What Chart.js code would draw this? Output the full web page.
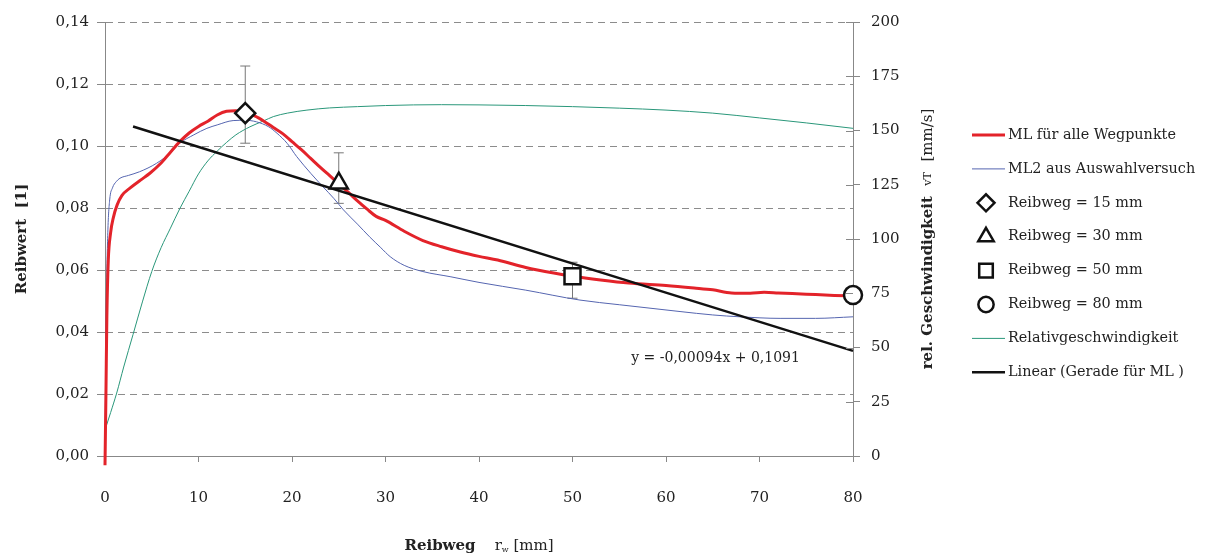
<!DOCTYPE html>
<html>
<head>
<meta charset="utf-8">
<script src="https://cdn.jsdelivr.net/npm/chart.js@4.4.1/dist/chart.umd.min.js"></script>
<style>
  html, body { margin: 0; padding: 0; background: #fff; }
</style>
</head>
<body>
<canvas id="reibwert" width="1205" height="554"></canvas>
<script>
// ML für alle Wegpunkte (Reibwert, linke Achse)
const mlX = [0, 0.1, 0.2, 0.35, 0.6, 0.9, 1.3, 1.8, 2.7, 3.8, 4.8, 6, 7, 8, 9, 10, 11, 12, 13, 14, 15, 16, 17, 18, 19, 20,
  21, 22, 23, 24, 25, 26, 27, 28, 29, 30, 32, 34, 36, 38, 40, 42, 45, 48, 50, 53, 56, 60, 63, 65, 67, 69, 70.5, 72, 75, 78, 80];
const mlY = [-0.003, 0.02, 0.045, 0.063, 0.072, 0.077, 0.081, 0.084, 0.0865, 0.089, 0.0912, 0.0945, 0.098, 0.1014, 0.1042,
  0.1063, 0.108, 0.11, 0.1112, 0.1114, 0.1108, 0.1097, 0.108, 0.106, 0.104, 0.1014, 0.0988, 0.096, 0.0932, 0.0905, 0.0878,
  0.0851, 0.0823, 0.0797, 0.0773, 0.076, 0.0725, 0.0695, 0.0675, 0.0658, 0.0644, 0.0632, 0.0608, 0.059, 0.058, 0.0568,
  0.0558, 0.055, 0.0542, 0.0536, 0.0526, 0.0525, 0.0528, 0.0526, 0.0522, 0.0518, 0.0516];

// ML2 aus Auswahlversuch
const ml2X = [0, 0.15, 0.3, 0.5, 0.8, 1.2, 1.6, 2.5, 3.7, 5.5, 7, 8, 9.5, 10.9, 12, 13.7, 15, 16.2, 17.5, 18.4, 19.5, 20.5,
  22, 23.3, 24.5, 25.5, 27, 28.3, 29.5, 30.5, 32, 34, 37, 40, 45, 50.8, 55, 61.5, 65, 67.9, 72.2, 76, 80];
const ml2Y = [0.004, 0.05, 0.072, 0.0826, 0.0865, 0.0885, 0.0896, 0.0905, 0.0917, 0.0944, 0.0978, 0.1009, 0.1036, 0.1057,
  0.1068, 0.1082, 0.1083, 0.1078, 0.1062, 0.1041, 0.1008, 0.0966, 0.0912, 0.0869, 0.083, 0.0794, 0.0748, 0.0707, 0.0672,
  0.0643, 0.0615, 0.0595, 0.0578, 0.056, 0.0535, 0.0503, 0.0488, 0.0466, 0.0455, 0.0449, 0.0444, 0.0444, 0.0449];

// Relativgeschwindigkeit vT [mm/s] (rechte Achse)
const vX = [0, 0.6, 1.25, 2, 3, 4, 5, 6, 7, 8, 9, 10, 11, 12, 13, 14, 15.5, 17, 18, 19.5, 21.6, 24, 27, 30, 33, 36, 40,
  45, 50, 55, 60, 65, 70, 75, 80];
const vY = [12, 20, 29, 41, 56, 71, 85, 96, 105, 114, 122, 130, 136, 140.5, 144.5, 148, 151.7, 154.5, 156.4, 158, 159.4,
  160.4, 161, 161.5, 161.8, 161.9, 161.8, 161.5, 161, 160.3, 159.4, 158, 155.8, 153.5, 151];

// Linear (Gerade für ML)
const fitX = [3, 80];
const fitY = [0.1063, 0.0339];
const fitText = 'y = -0,00094x + 0,1091';
const fitLabelAt = [65.3, 0.0316];

// Einzelpunkte mit Streuung
const pointLabels = ['Reibweg = 15 mm', 'Reibweg = 30 mm', 'Reibweg = 50 mm', 'Reibweg = 80 mm'];
const pointStyles = ['rectRot', 'triangle', 'rect', 'circle'];
const pointX = [15, 25, 50, 80];
const pointY = [0.1106, 0.088, 0.058, 0.0519];
const errLow = [0.1009, 0.0815, 0.0509, null];
const errHigh = [0.1258, 0.0978, 0.0625, null];

const FONT = '"DejaVu Serif", "Liberation Serif", serif';
const toPoints = (xs, ys) => xs.map((x, i) => ({x: x, y: ys[i]}));

function drawShape(ctx, style, x, y, r) {
    ctx.beginPath();
    if (style === 'rectRot') {
        ctx.moveTo(x - r, y); ctx.lineTo(x, y - r); ctx.lineTo(x + r, y); ctx.lineTo(x, y + r);
        ctx.closePath();
    } else if (style === 'triangle') {
        ctx.moveTo(x, y - r); ctx.lineTo(x + 0.866 * r, y + 0.5 * r); ctx.lineTo(x - 0.866 * r, y + 0.5 * r);
        ctx.closePath();
    } else if (style === 'rect') {
        const s = r * Math.SQRT1_2;
        ctx.rect(x - s, y - s, 2 * s, 2 * s);
    } else {
        ctx.arc(x, y, r, 0, Math.PI * 2);
    }
    ctx.fill();
    ctx.stroke();
}

const errorBars = {
    id: 'errorBars',
    beforeDatasetsDraw(chart) {
        const {ctx, scales: {x, y}} = chart;
        ctx.save();
        ctx.strokeStyle = '#777';
        ctx.lineWidth = 1;
        pointX.forEach((px, i) => {
            if (errLow[i] == null) return;
            const cx = x.getPixelForValue(px);
            const y1 = y.getPixelForValue(errLow[i]);
            const y2 = y.getPixelForValue(errHigh[i]);
            ctx.beginPath();
            ctx.moveTo(cx, y1); ctx.lineTo(cx, y2);
            ctx.moveTo(cx - 5, y1); ctx.lineTo(cx + 5, y1);
            ctx.moveTo(cx - 5, y2); ctx.lineTo(cx + 5, y2);
            ctx.stroke();
        });
        ctx.restore();
    }
};

const extras = {
    id: 'extras',
    afterDraw(chart) {
        const {ctx, chartArea, scales} = chart;
        ctx.save();

        // inner half of the right axis ticks
        ctx.strokeStyle = '#888';
        ctx.lineWidth = 1;
        scales.y1.ticks.forEach(t => {
            const py = Math.round(scales.y1.getPixelForValue(t.value)) + 0.5;
            ctx.beginPath();
            ctx.moveTo(chartArea.right - 7, py);
            ctx.lineTo(chartArea.right, py);
            ctx.stroke();
        });

        // equation of the trend line
        ctx.fillStyle = '#222';
        ctx.font = '14px ' + FONT;
        ctx.textAlign = 'center';
        ctx.textBaseline = 'middle';
        ctx.fillText(fitText, scales.x.getPixelForValue(fitLabelAt[0]), scales.y.getPixelForValue(fitLabelAt[1]));

        // mixed-font axis titles
        const drawParts = (parts) => {
            let w = 0;
            parts.forEach(p => { ctx.font = p.font; p.w = ctx.measureText(p.text).width; w += p.w; });
            let cx = -w / 2;
            ctx.textAlign = 'left';
            parts.forEach(p => { ctx.font = p.font; ctx.fillText(p.text, cx, p.dy || 0); cx += p.w; });
        };
        ctx.save();
        ctx.translate((chartArea.left + chartArea.right) / 2, 546);
        drawParts([
            {text: 'Reibweg', font: 'bold 15px ' + FONT},
            {text: '    r', font: '15px ' + FONT},
            {text: 'w', font: '8px ' + FONT, dy: 4},
            {text: ' [mm]', font: '15px ' + FONT}
        ]);
        ctx.restore();

        ctx.save();
        ctx.translate(928, (chartArea.top + chartArea.bottom) / 2);
        ctx.rotate(-Math.PI / 2);
        drawParts([
            {text: 'rel. Geschwindigkeit', font: 'bold 15px ' + FONT},
            {text: '   vT   ', font: '11px ' + FONT},
            {text: '[mm/s]', font: '15px ' + FONT}
        ]);
        ctx.restore();

        // legend
        const lx = 972;
        let ly = 135;
        chart.data.datasets.forEach(ds => {
            ctx.strokeStyle = ds.borderColor;
            if (ds.showLine === false) {
                ctx.fillStyle = '#fff';
                ctx.lineWidth = 2.5;
                drawShape(ctx, ds.pointStyle, lx + 14, ly, ds.pointRadius * 0.85);
            } else {
                ctx.lineWidth = ds.borderWidth;
                ctx.beginPath();
                ctx.moveTo(lx, ly); ctx.lineTo(lx + 33, ly);
                ctx.stroke();
            }
            ctx.fillStyle = '#222';
            ctx.font = '14.4px ' + FONT;
            ctx.textAlign = 'left';
            ctx.fillText(ds.label, lx + 36, ly);
            ly += 33.9;
        });
        ctx.restore();
    }
};

const lineSet = (label, xs, ys, color, width, axis, order) => ({
    label: label,
    data: toPoints(xs, ys),
    yAxisID: axis,
    borderColor: color,
    borderWidth: width,
    pointRadius: 0,
    cubicInterpolationMode: 'monotone',
    fill: false,
    clip: false,
    order: order
});

const markerRadius = [10, 10.5, 11.3, 9];
const markerSets = pointLabels.map((label, i) => ({
    label: label,
    data: [{x: pointX[i], y: pointY[i]}],
    yAxisID: 'y',
    showLine: false,
    pointStyle: pointStyles[i],
    pointRadius: markerRadius[i],
    pointBorderWidth: 2.5,
    borderColor: '#111',
    pointBorderColor: '#111',
    pointBackgroundColor: '#fff',
    clip: false,
    order: 0
}));

const datasets = [
    lineSet('ML für alle Wegpunkte', mlX, mlY, '#e3232a', 3, 'y', 2),
    lineSet('ML2 aus Auswahlversuch', ml2X, ml2Y, '#5565b0', 1, 'y', 3),
    ...markerSets,
    lineSet('Relativgeschwindigkeit', vX, vY, '#2a977a', 1, 'y1', 4),
    lineSet('Linear (Gerade für ML )', fitX, fitY, '#111', 2.5, 'y', 1)
];

const tickFont = {family: FONT, size: 15};

new Chart(document.getElementById('reibwert'), {
    type: 'line',
    data: {datasets: datasets},
    options: {
        responsive: false,
        animation: false,
        events: [],
        layout: {padding: {top: 22, right: 250, bottom: 0, left: 0}},
        plugins: {legend: {display: false}, tooltip: {enabled: false}},
        scales: {
            x: {
                type: 'linear',
                min: 0,
                max: 80,
                ticks: {stepSize: 10, font: tickFont, color: '#222', padding: 27},
                grid: {drawOnChartArea: false, tickLength: 6, color: '#888', tickBorderDash: []},
                border: {color: '#888'},
                afterFit: (s) => { s.height = 98; }
            },
            y: {
                position: 'left',
                min: 0,
                max: 0.14,
                ticks: {
                    stepSize: 0.02,
                    font: tickFont,
                    color: '#222',
                    padding: 8,
                    callback: (v) => v.toFixed(2).replace('.', ',')
                },
                grid: {color: '#8c8c8c', tickLength: 8, tickColor: '#888', tickBorderDash: []},
                border: {color: '#888', dash: [7, 5]},
                title: {display: true, text: 'Reibwert  [1]', font: {family: FONT, size: 15, weight: 'bold'}, color: '#222', padding: {top: 13, bottom: 0}},
                afterFit: (s) => { s.width = 105; }
            },
            y1: {
                position: 'right',
                min: 0,
                max: 200,
                ticks: {stepSize: 25, font: tickFont, color: '#222', padding: 11},
                grid: {drawOnChartArea: false, tickLength: 7, color: '#888', tickBorderDash: []},
                border: {color: '#888'},
                afterFit: (s) => { s.width = 102; }
            }
        }
    },
    plugins: [errorBars, extras]
});
</script>
</body>
</html>
